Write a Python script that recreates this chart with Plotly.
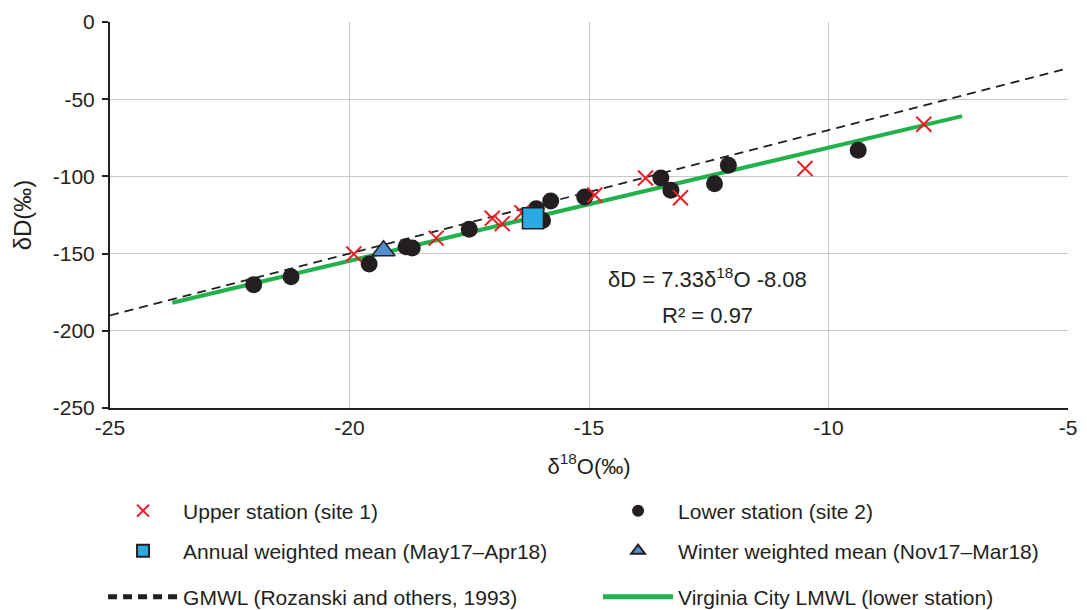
import plotly.graph_objects as go

# ---- data ----
upper_x = [-19.91, -18.19, -17.02, -16.81, -16.40, -14.88, -13.82, -13.09, -10.49, -8.01]
upper_y = [-150.3, -140.0, -127.1, -130.6, -123.5, -112.1, -101.0, -113.8, -94.9, -66.2]

lower_x = [-22.0, -21.22, -19.59, -18.82, -18.69, -17.50, -16.10, -15.97, -15.80, -15.09, -13.50, -13.29, -12.38, -12.09, -9.38]
lower_y = [-170.1, -165.0, -156.8, -145.6, -146.3, -134.2, -121.0, -128.5, -116.0, -113.4, -101.0, -108.9, -104.8, -92.8, -83.1]

annual_x = [-16.17]
annual_y = [-127.1]
winter_x = [-19.29]
winter_y = [-148.2]

gmwl_x = [-25, -5]
gmwl_y = [-190, -30]          # dD = 8*d18O + 10
lmwl_x = [-23.7, -7.21]
lmwl_y = [-181.8, -60.93]     # dD = 7.33*d18O - 8.08

x_ticks = [-25, -20, -15, -10, -5]
y_ticks = [0, -50, -100, -150, -200, -250]

FONT = "Liberation Sans, Arial, sans-serif"
TXT = "#231f20"
LEG_FONT = dict(size=21, color=TXT, family=FONT)

fig = go.Figure()
fig.add_trace(go.Scatter(x=gmwl_x, y=gmwl_y, mode="lines", name="GMWL (Rozanski and others, 1993)",
                         line=dict(color=TXT, width=1.8, dash="9px,6px"), legend="legend5"))
fig.add_trace(go.Scatter(x=lmwl_x, y=lmwl_y, mode="lines", name="Virginia City LMWL (lower station)",
                         line=dict(color="#21b24b", width=4), legend="legend6"))
fig.add_trace(go.Scatter(x=lower_x, y=lower_y, mode="markers", name="Lower station (site 2)",
                         marker=dict(symbol="circle", size=17, color=TXT), legend="legend2"))
fig.add_trace(go.Scatter(x=upper_x, y=upper_y, mode="markers", name="Upper station (site 1)",
                         marker=dict(symbol="x-thin", size=15, line=dict(color="#ed1c24", width=2)),
                         legend="legend"))
fig.add_trace(go.Scatter(x=annual_x, y=annual_y, mode="markers", name="Annual weighted mean (May17\u2013Apr18)",
                         marker=dict(symbol="square", size=21, color="#29abe2", line=dict(color=TXT, width=1.5)),
                         legend="legend3"))
fig.add_trace(go.Scatter(x=winter_x, y=winter_y, mode="markers", name="Winter weighted mean (Nov17\u2013Mar18)",
                         marker=dict(symbol="triangle-up", size=20, color="#4f8fcf", line=dict(color=TXT, width=1.5)),
                         legend="legend4"))

fig.add_annotation(x=-12.53, y=-165.6, xref="x", yref="y", showarrow=False,
                   text="\u03b4D = 7.33\u03b4<sup>18</sup>O -8.08", font=dict(size=22, color=TXT, family=FONT))
fig.add_annotation(x=-12.53, y=-190.1, xref="x", yref="y", showarrow=False,
                   text="R\u00b2 = 0.97", font=dict(size=22, color=TXT, family=FONT))


def leg(xc, yc):
    return dict(orientation="h", xref="container", yref="container", x=xc, y=yc,
                xanchor="left", yanchor="middle",
                itemwidth=70, font=LEG_FONT, traceorder="normal", itemsizing="constant",
                bgcolor="rgba(0,0,0,0)")


COL1, COL2 = 0.0948, 0.5502
ROW1, ROW2, ROW3 = 0.1623, 0.0967, 0.0213

fig.update_layout(
    width=1087, height=610,
    margin=dict(l=110, r=10, t=20, b=202),
    paper_bgcolor="white", plot_bgcolor="white",
    font=dict(family=FONT, size=21, color=TXT),
    showlegend=True,
    legend=leg(COL1, ROW1),
    legend2=leg(COL2, ROW1),
    legend3=leg(COL1, ROW2),
    legend4=leg(COL2, ROW2),
    legend5=leg(COL1, ROW3),
    legend6=leg(COL2, ROW3),
    xaxis=dict(range=[-25, -5], tickvals=x_ticks, ticktext=[str(v) for v in x_ticks],
               showgrid=True, gridcolor="#c8c8c8", gridwidth=1.3,
               showline=True, linecolor=TXT, linewidth=2, zeroline=False,
               ticks="", title=dict(text="\u03b4<sup>18</sup>O(\u2030)", font=dict(size=22), standoff=20),
               tickfont=dict(size=21)),
    yaxis=dict(range=[-250, 0], tickvals=y_ticks, ticktext=[str(v) for v in y_ticks],
               showgrid=True, gridcolor="#c8c8c8", gridwidth=1.3,
               showline=True, linecolor=TXT, linewidth=2, zeroline=False,
               ticks="outside", ticklen=6, tickcolor=TXT, tickwidth=2, ticklabelstandoff=3,
               title=dict(text="\u03b4D(\u2030)", font=dict(size=24), standoff=14),
               tickfont=dict(size=21)),
)

fig.write_html("out.html")
